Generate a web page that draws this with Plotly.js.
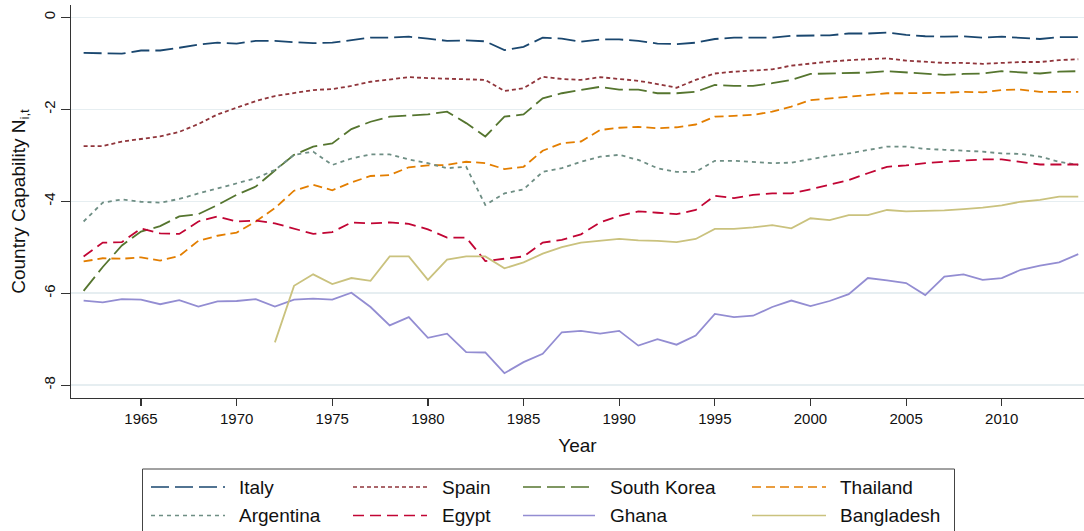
<!DOCTYPE html>
<html>
<head>
<meta charset="utf-8">
<script src="https://cdn.plot.ly/plotly-3.0.1.min.js"></script>
<style>html,body{margin:0;padding:0;background:#fff;}#chart{width:1084px;height:531px;}</style>
</head>
<body>
<div id="chart"></div>
<script>
// ---------------- data ----------------
const years = [1962,1963,1964,1965,1966,1967,1968,1969,1970,1971,1972,1973,1974,1975,1976,1977,1978,1979,
  1980,1981,1982,1983,1984,1985,1986,1987,1988,1989,1990,1991,1992,1993,1994,1995,1996,
  1997,1998,1999,2000,2001,2002,2003,2004,2005,2006,2007,2008,2009,2010,2011,2012,2013,2014];

const italy = [-0.77,-0.78,-0.79,-0.72,-0.72,-0.66,-0.59,-0.55,-0.57,-0.51,-0.51,-0.54,-0.56,-0.55,-0.49,-0.44,-0.44,-0.42,
  -0.46,-0.51,-0.50,-0.52,-0.71,-0.64,-0.44,-0.46,-0.53,-0.48,-0.48,-0.51,-0.57,-0.58,-0.55,-0.47,-0.44,
  -0.44,-0.44,-0.40,-0.40,-0.39,-0.35,-0.35,-0.33,-0.38,-0.41,-0.42,-0.41,-0.44,-0.42,-0.44,-0.47,-0.43,-0.43];

const spain = [-2.80,-2.80,-2.70,-2.64,-2.59,-2.49,-2.32,-2.11,-1.96,-1.82,-1.71,-1.64,-1.58,-1.56,-1.49,-1.40,-1.35,-1.30,
  -1.32,-1.33,-1.34,-1.36,-1.60,-1.54,-1.29,-1.34,-1.36,-1.30,-1.34,-1.38,-1.45,-1.53,-1.36,-1.22,-1.18,
  -1.16,-1.13,-1.05,-1.00,-0.96,-0.93,-0.91,-0.89,-0.94,-0.97,-0.99,-0.99,-1.01,-0.99,-0.97,-0.97,-0.93,-0.91];

const southKorea = [-5.95,-5.43,-4.96,-4.66,-4.54,-4.33,-4.28,-4.08,-3.86,-3.68,-3.33,-2.99,-2.81,-2.74,-2.43,-2.27,-2.16,-2.14,
  -2.11,-2.05,-2.30,-2.59,-2.16,-2.11,-1.76,-1.65,-1.58,-1.51,-1.57,-1.57,-1.65,-1.65,-1.62,-1.47,-1.49,
  -1.49,-1.43,-1.36,-1.23,-1.22,-1.22,-1.20,-1.17,-1.20,-1.23,-1.25,-1.23,-1.22,-1.17,-1.20,-1.22,-1.18,-1.17];

const thailand = [-5.31,-5.24,-5.25,-5.22,-5.29,-5.19,-4.86,-4.75,-4.68,-4.44,-4.15,-3.77,-3.64,-3.76,-3.59,-3.45,-3.43,-3.26,
  -3.22,-3.21,-3.14,-3.17,-3.30,-3.25,-2.90,-2.74,-2.70,-2.45,-2.40,-2.38,-2.41,-2.39,-2.33,-2.16,-2.14,
  -2.12,-2.05,-1.94,-1.80,-1.76,-1.72,-1.69,-1.65,-1.65,-1.65,-1.64,-1.62,-1.63,-1.58,-1.57,-1.62,-1.62,-1.62];

const argentina = [-4.44,-4.03,-3.96,-4.01,-4.03,-3.95,-3.83,-3.72,-3.61,-3.50,-3.32,-2.99,-2.92,-3.21,-3.07,-2.98,-2.98,-3.09,
  -3.17,-3.28,-3.25,-4.08,-3.83,-3.74,-3.36,-3.28,-3.14,-3.03,-2.99,-3.10,-3.28,-3.36,-3.36,-3.12,-3.12,
  -3.14,-3.17,-3.16,-3.09,-3.01,-2.96,-2.88,-2.81,-2.81,-2.86,-2.88,-2.90,-2.92,-2.96,-2.97,-3.03,-3.14,-3.21];

const egypt = [-5.20,-4.90,-4.89,-4.59,-4.70,-4.71,-4.44,-4.33,-4.44,-4.42,-4.48,-4.59,-4.71,-4.67,-4.46,-4.48,-4.46,-4.49,
  -4.61,-4.79,-4.79,-5.30,-5.25,-5.20,-4.90,-4.84,-4.72,-4.46,-4.32,-4.22,-4.25,-4.28,-4.19,-3.88,-3.93,
  -3.86,-3.83,-3.83,-3.74,-3.64,-3.54,-3.39,-3.25,-3.22,-3.17,-3.14,-3.12,-3.09,-3.09,-3.15,-3.20,-3.20,-3.20];

const ghana = [-6.16,-6.20,-6.13,-6.14,-6.24,-6.15,-6.29,-6.18,-6.17,-6.13,-6.29,-6.14,-6.12,-6.14,-5.99,-6.30,-6.70,-6.52,
  -6.97,-6.88,-7.28,-7.29,-7.74,-7.50,-7.32,-6.85,-6.82,-6.88,-6.82,-7.14,-7.00,-7.12,-6.92,-6.45,-6.52,
  -6.49,-6.30,-6.16,-6.28,-6.17,-6.02,-5.67,-5.72,-5.78,-6.04,-5.64,-5.59,-5.71,-5.67,-5.49,-5.40,-5.33,-5.15];

const bangladesh = [null,null,null,null,null,null,null,null,null,null,-7.07,-5.84,-5.59,-5.80,-5.67,-5.73,-5.20,-5.20,
  -5.71,-5.27,-5.20,-5.20,-5.46,-5.33,-5.14,-5.00,-4.90,-4.86,-4.82,-4.85,-4.86,-4.89,-4.82,-4.60,-4.60,
  -4.57,-4.52,-4.59,-4.37,-4.41,-4.30,-4.30,-4.19,-4.22,-4.21,-4.20,-4.17,-4.14,-4.09,-4.01,-3.97,-3.90,-3.90];

const seriesNames = ["Italy","Spain","South Korea","Thailand","Argentina","Egypt","Ghana","Bangladesh"];
const seriesValues = [italy, spain, southKorea, thailand, argentina, egypt, ghana, bangladesh];

const xTickVals = [1965,1970,1975,1980,1985,1990,1995,2000,2005,2010];
const xTickText = ["1965","1970","1975","1980","1985","1990","1995","2000","2005","2010"];
const yTickVals = [-8,-6,-4,-2,0];
const yTickText = ["-8","-6","-4","-2","0"];

// ---------------- styles ----------------
const colors = ["#1a476f","#90353b","#55752f","#e37e00","#6e8e84","#c10534","#938dd2","#cac27e"];
const dashes = ["18px,6px","4px,3px","18px,6px","9px,5px","4px,4px","11px,6px","solid","solid"];

const traces = seriesNames.map((name, i) => ({
  type: "scatter", mode: "lines", name: name,
  x: years, y: seriesValues[i],
  line: {color: colors[i], width: 1.8, dash: dashes[i]},
  connectgaps: false, showlegend: false
}));

// pixel -> paper helpers (plot area: x 71..1084, y 5..398)
const L = 71, R = 1084, T = 5, B = 398;
const px = v => (v - L) / (R - L);
const py = v => (B - v) / (B - T);

// manual legend (Stata-style box, 2 rows x 4 columns)
const legLines = [[151,225],[353,427],[523,595],[752,826]];
const legText = [237,440,608,838];
const legRows = [487,515.5];
const shapes = [{
  type: "rect", xref: "paper", yref: "paper",
  x0: px(142.5), x1: px(954.5), y0: py(469), y1: py(540),
  line: {color: "#444", width: 1}, fillcolor: "rgba(0,0,0,0)"
}];
const annotations = [];
seriesNames.forEach((name, i) => {
  const col = i % 4, row = Math.floor(i / 4);
  shapes.push({
    type: "line", xref: "paper", yref: "paper",
    x0: px(legLines[col][0]), x1: px(legLines[col][1]),
    y0: py(legRows[row]), y1: py(legRows[row]),
    line: {color: colors[i], width: 1.6, dash: dashes[i]}
  });
  annotations.push({
    xref: "paper", yref: "paper", x: px(legText[col]), y: py(legRows[row]),
    xanchor: "left", yanchor: "middle", showarrow: false, text: name,
    font: {size: 19, color: "#111"}
  });
});

const layout = {
  width: 1084, height: 531,
  margin: {l: L, r: 1084 - R, t: T, b: 531 - B, pad: 0},
  paper_bgcolor: "#ffffff", plot_bgcolor: "#ffffff",
  font: {family: "Liberation Sans, Arial, sans-serif", color: "#111", size: 15},
  showlegend: false,
  xaxis: {
    range: [1961.34, 2014.3], tickmode: "array", tickvals: xTickVals, ticktext: xTickText,
    showgrid: false, zeroline: false, showline: true, linecolor: "#333", linewidth: 1.2,
    ticks: "outside", ticklen: 7, tickwidth: 1.2, tickcolor: "#333",
    tickfont: {size: 15, color: "#111"},
    title: {text: "Year", font: {size: 19, color: "#111"}, standoff: 12},
    automargin: false
  },
  yaxis: {
    range: [-8.28, 0.27], tickmode: "array", tickvals: yTickVals, ticktext: yTickText,
    showgrid: true, gridcolor: "#e6eef1", gridwidth: 1.5, zeroline: false,
    showline: true, linecolor: "#333", linewidth: 1.2,
    ticks: "outside", ticklen: 9, tickwidth: 1.2, tickcolor: "#333",
    tickangle: -90, tickfont: {size: 15, color: "#111"},
    title: {text: "Country Capability N<sub>i,t</sub>", font: {size: 19, color: "#111"}, standoff: 10},
    automargin: false
  },
  shapes: shapes,
  annotations: annotations
};

Plotly.newPlot("chart", traces, layout, {displayModeBar: false, staticPlot: true});
</script>
</body>
</html>
